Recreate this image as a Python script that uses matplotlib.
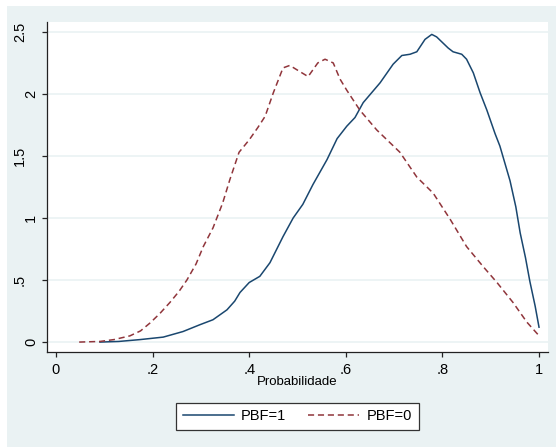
import matplotlib
matplotlib.use("Agg")
import matplotlib.pyplot as plt
from matplotlib.patches import Rectangle
from matplotlib.transforms import ScaledTranslation

plt.rcParams['font.family'] = ['Liberation Sans', 'DejaVu Sans']

# densidade estimada da probabilidade, por grupo
x_pbf1 = [0.091, 0.13, 0.174, 0.222, 0.263, 0.298, 0.325, 0.354, 0.37, 0.381, 0.40, 0.422,
          0.443, 0.47, 0.491, 0.511, 0.532, 0.561, 0.582, 0.602, 0.619, 0.636, 0.671,
          0.698, 0.716, 0.733, 0.747, 0.764, 0.778, 0.788, 0.812, 0.822, 0.84, 0.85,
          0.864, 0.878, 0.892, 0.909, 0.919, 0.94, 0.952, 0.961, 0.972, 0.981, 0.992, 1.0]
y_pbf1 = [0.0, 0.005, 0.02, 0.04, 0.085, 0.14, 0.18, 0.26, 0.33, 0.40, 0.48, 0.53,
          0.64, 0.85, 1.0, 1.11, 1.27, 1.47, 1.64, 1.74, 1.81, 1.93, 2.09,
          2.24, 2.31, 2.32, 2.34, 2.44, 2.48, 2.46, 2.37, 2.34, 2.32, 2.28,
          2.17, 2.01, 1.87, 1.68, 1.58, 1.30, 1.09, 0.88, 0.68, 0.49, 0.29, 0.12]

x_pbf0 = [0.048, 0.091, 0.12, 0.153, 0.175, 0.195, 0.215, 0.236, 0.255, 0.271, 0.29,
          0.305, 0.325, 0.345, 0.36, 0.379, 0.40, 0.418, 0.433, 0.45, 0.47, 0.484,
          0.505, 0.522, 0.542, 0.557, 0.574, 0.588, 0.602, 0.629, 0.664, 0.712, 0.747,
          0.781, 0.816, 0.85, 0.884, 0.913, 0.946, 0.975, 0.998]
y_pbf0 = [0.0, 0.005, 0.02, 0.05, 0.09, 0.155, 0.23, 0.32, 0.41, 0.5, 0.63,
          0.77, 0.92, 1.12, 1.31, 1.53, 1.63, 1.73, 1.82, 2.01, 2.21, 2.23,
          2.18, 2.14, 2.25, 2.28, 2.25, 2.12, 2.03, 1.87, 1.71, 1.53, 1.33,
          1.20, 0.99, 0.77, 0.61, 0.48, 0.32, 0.16, 0.06]

x_ticks = [0, 0.2, 0.4, 0.6, 0.8, 1.0]
x_labels = ['0', '.2', '.4', '.6', '.8', '1']
y_ticks = [0, 0.5, 1.0, 1.5, 2.0, 2.5]
y_labels = ['0', '.5', '1', '1.5', '2', '2.5']

bg = '#EAF2F3'
fig = plt.figure(figsize=(5.56, 4.47), dpi=100, facecolor='white')
fig.patches.append(Rectangle((7 / 556, 0), 1, 1 - 6 / 447, transform=fig.transFigure,
                             facecolor=bg, edgecolor='none', zorder=-10))

ax = fig.add_axes([47 / 556, 1 - 352 / 447, (548 - 47) / 556, (352 - 22) / 447])
ax.set_facecolor('white')

ax.plot(x_pbf1, y_pbf1, color='#1a476f', lw=1.1, label='PBF=1')
ax.plot(x_pbf0, y_pbf0, color='#90353b', lw=1.1, dashes=(4, 2.5), label='PBF=0')

ax.set_xlim(-0.0186, 1.0186)
ax.set_ylim(-0.08, 2.58)
ax.set_xticks(x_ticks)
ax.set_xticklabels(x_labels)
ax.set_yticks(y_ticks)
ax.set_yticklabels([])
ax.grid(axis='y', color=bg, lw=1.2)
ax.set_axisbelow(True)

for s in ['top', 'right']:
    ax.spines[s].set_visible(False)
for s in ['left', 'bottom']:
    ax.spines[s].set_color('#222222')
    ax.spines[s].set_linewidth(0.9)
ax.tick_params(direction='out', length=3.6, width=0.9, color='#222222', labelsize=10.5)
ax.tick_params(axis='x', pad=4.5)

# rotulos do eixo y girados; os de um caractere ficam mais perto do eixo
for val, lab in zip(y_ticks, y_labels):
    dx = -9 if len(lab) == 1 else -20
    off = ScaledTranslation(dx / 100, 0, fig.dpi_scale_trans)
    ax.text(0, val, lab, transform=ax.get_yaxis_transform() + off, rotation=90,
            ha='right', va='center', fontsize=10.5)

ax.set_xlabel('Probabilidade', fontsize=9.5, labelpad=-1)

leg = fig.legend(loc='center', bbox_to_anchor=(297.5 / 556, 1 - 416.5 / 447), ncol=2,
                 fontsize=10.5, frameon=True, fancybox=False, handlelength=3.5,
                 columnspacing=1.5, borderpad=0.45, handletextpad=0.5)
leg.get_frame().set_edgecolor('#333333')
leg.get_frame().set_facecolor('white')
leg.get_frame().set_alpha(1)
leg.get_frame().set_linewidth(0.9)

fig.savefig('out.png', dpi=100, facecolor=fig.get_facecolor())
